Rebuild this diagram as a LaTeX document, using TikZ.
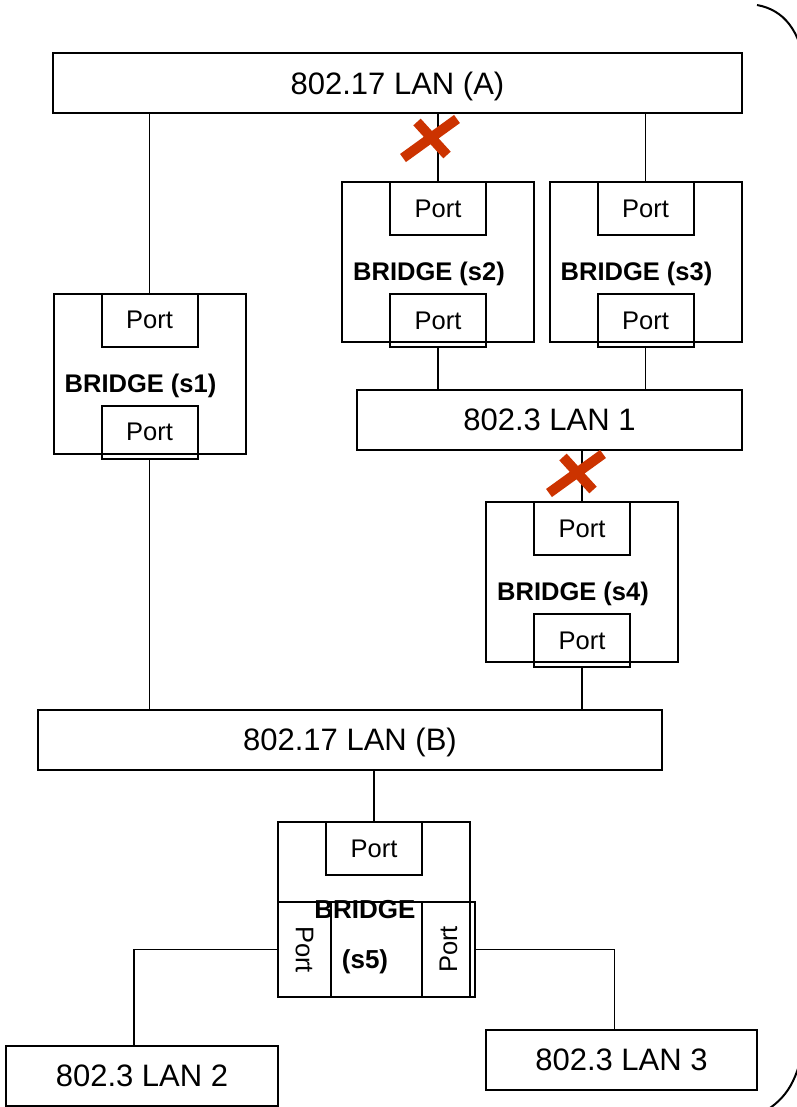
\documentclass[tikz,border=0pt]{standalone}
\usepackage{fontspec}
\setmainfont{Liberation Sans}
\usepackage{xcolor}
\usetikzlibrary{calc, positioning}
\definecolor{kreuzrot}{RGB}{204,51,0}

\begin{document}
\begin{tikzpicture}[x=1pt, y=-1pt]

         %%%%%%%%%%%%%%%%%%%%%%%%%%%%%%%%%%%%%%%%%%%%%%%%%%%%%%%%%%%%%%%%%%%%%%
         % Parameter
         %%%%%%%%%%%%%%%%%%%%%%%%%%%%%%%%%%%%%%%%%%%%%%%%%%%%%%%%%%%%%%%%%%%%%%
         \def\bw{192}
         \def\bh{160}
         \def\pw{96}
         \def\ph{53}
         \def\lh{60}

         % Stile für Kästen, Ports und Leitungen
         \tikzset{
            rahmen/.style={draw, line width=2pt, inner sep=0pt, outer sep=0pt},
            lan/.style={rahmen, minimum height=\lh, text height=22pt, text depth=0pt,
            font=\fontsize{31}{37}\selectfont},
            bridge/.style={rahmen, minimum width=\bw, minimum height=\bh},
            port/.style={rahmen, minimum width=\pw, minimum height=\ph,
            font=\fontsize{25.5}{30}\selectfont},
            blabel/.style={inner sep=0pt, font=\fontsize{25.5}{30}\selectfont\bfseries},
            kabel/.style={line width=1.6pt},
            kreuz/.style={line width=10pt, kreuzrot}
         }

         \useasboundingbox (0,0) rectangle (796,1107);

         %%%%%%%%%%%%%%%%%%%%%%%%%%%%%%%%%%%%%%%%%%%%%%%%%%%%%%%%%%%%%%%%%%%%%%
         % LANs
         %%%%%%%%%%%%%%%%%%%%%%%%%%%%%%%%%%%%%%%%%%%%%%%%%%%%%%%%%%%%%%%%%%%%%%
         \node[lan, minimum width=689] (lanA) at (397.5,83.5)  {802.17 LAN (A)};
         \node[lan, minimum width=385] (lan1) at (549.5,419.5) {802.3 LAN 1};
         \node[lan, minimum width=624] (lanB) at (350,739.5)   {802.17 LAN (B)};
         \node[lan, minimum width=272] (lan2) at (142,1075.5)  {802.3 LAN 2};
         \node[lan, minimum width=271] (lan3) at (621.5,1059.5) {802.3 LAN 3};

         %%%%%%%%%%%%%%%%%%%%%%%%%%%%%%%%%%%%%%%%%%%%%%%%%%%%%%%%%%%%%%%%%%%%%%
         % Bridges s1 bis s4 mit je zwei Ports
         %%%%%%%%%%%%%%%%%%%%%%%%%%%%%%%%%%%%%%%%%%%%%%%%%%%%%%%%%%%%%%%%%%%%%%
         \node[bridge] (s1) at (149.5,373.5) {};
         \node[bridge] (s2) at (438,262)     {};
         \node[bridge] (s3) at (645.5,262)   {};
         \node[bridge] (s4) at (582,582)     {};

         \foreach \s in {1,2,3,4} {
            \node[port, anchor=north] (p\s o) at (s\s.north) {Port};
            \node[port, anchor=south] (p\s u) at ($(s\s.south)+(0,5)$) {Port};
            \node[blabel] (t\s) at ($(s\s)+(-9,12)$) {BRIDGE (s\s)};
         }

         %%%%%%%%%%%%%%%%%%%%%%%%%%%%%%%%%%%%%%%%%%%%%%%%%%%%%%%%%%%%%%%%%%%%%%
         % Bridge s5 mit drei Ports
         %%%%%%%%%%%%%%%%%%%%%%%%%%%%%%%%%%%%%%%%%%%%%%%%%%%%%%%%%%%%%%%%%%%%%%
         \node[bridge, minimum height=175] (s5) at (374,909.5) {};
         \node[port, anchor=north] (p5o) at (s5.north) {Port};
         \node[port, minimum width=95, rotate=-90] (p5l) at (304.5,949.5) {Port};
         \node[port, minimum width=95, rotate=90]  (p5r) at (448.5,949.5) {Port};
         \draw[line width=2pt] (p5l.west -| s5.west) -- (p5l.west -| p5r.south);
         \node[blabel, align=center, font=\fontsize{26}{50}\selectfont\bfseries]
         (t5) at ($(s5)+(-9,28)$) {BRIDGE\\(s5)};

         %%%%%%%%%%%%%%%%%%%%%%%%%%%%%%%%%%%%%%%%%%%%%%%%%%%%%%%%%%%%%%%%%%%%%%
         % Leitungen
         %%%%%%%%%%%%%%%%%%%%%%%%%%%%%%%%%%%%%%%%%%%%%%%%%%%%%%%%%%%%%%%%%%%%%%
         \draw[kabel] (p1o.north) -- (p1o.north |- lanA.south);
         \draw[kabel] (p2o.north) -- (p2o.north |- lanA.south);
         \draw[kabel] (p3o.north) -- (p3o.north |- lanA.south);
         \draw[kabel] (p2u.south) -- (p2u.south |- lan1.north);
         \draw[kabel] (p3u.south) -- (p3u.south |- lan1.north);
         \draw[kabel] (p4o.north) -- (p4o.north |- lan1.south);
         \draw[kabel] (p4u.south) -- (p4u.south |- lanB.north);
         \draw[kabel] (p1u.south) -- (p1u.south |- lanB.north);
         \draw[kabel] (p5o.north) -- (p5o.north |- lanB.south);

         \coordinate (L2) at ($(lan2.north)+(-8,0)$);
         \coordinate (L3) at ($(lan3.north)+(-7,0)$);
         \draw[kabel] (p5l.south) -| (L2);
         \draw[kabel] (p5r.south) -| (L3);

         %%%%%%%%%%%%%%%%%%%%%%%%%%%%%%%%%%%%%%%%%%%%%%%%%%%%%%%%%%%%%%%%%%%%%%
         % Blockierte Ports (rote Kreuze)
         %%%%%%%%%%%%%%%%%%%%%%%%%%%%%%%%%%%%%%%%%%%%%%%%%%%%%%%%%%%%%%%%%%%%%%
         \coordinate (k1) at (430,139);
         \coordinate (k2) at (576,474);
         \foreach \k in {k1,k2} {
            \draw[kreuz] ($(\k)+(-27,19)$) -- ($(\k)+(27,-20)$);
            \draw[kreuz] ($(\k)+(-13,-17)$) -- ($(\k)+(17,16)$);
         }

         % Klammer am rechten Rand
         \draw[line width=2pt] (757,5) .. controls (784,10) and (800,30) .. (806,70)
         -- (806,1030) .. controls (800,1075) and (790,1095) .. (767,1110);

\end{tikzpicture}
\end{document}
